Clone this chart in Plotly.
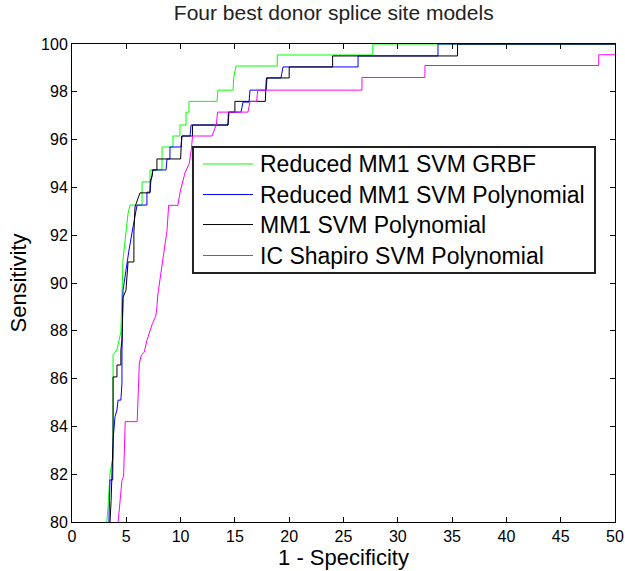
import plotly.graph_objects as go

# ROC curves (1 - specificity in %, sensitivity in %) for four donor splice site models
grbf_x = [3.2, 3.3, 3.5, 3.78, 3.78, 4.14, 4.33, 4.5, 4.7, 5.16, 5.34, 6.45, 6.45, 7.18, 7.18,
          8.29, 8.29, 9.3, 9.3, 9.94, 9.94, 10.5, 10.5, 10.77, 10.77, 13.35, 13.44, 14.83, 14.9,
          15.1, 18.9, 18.9, 27.7, 27.7, 50.0]
grbf_y = [80.0, 80.5, 82.05, 82.7, 87.0, 87.2, 87.6, 87.95, 91.0, 92.9, 93.26, 93.26, 94.23, 94.23, 94.73,
          94.73, 95.69, 95.69, 96.15, 96.15, 96.61, 96.61, 97.15, 97.15, 97.6, 97.6, 98.07, 98.07, 98.6,
          99.08, 99.08, 99.54, 99.54, 100.0, 100.0]

red_poly_x = [3.4, 3.5, 3.75, 3.78, 3.96, 4.14, 4.24, 4.5, 4.6, 4.6, 4.7, 4.88, 5.25, 5.62, 5.99,
              6.9, 6.9, 7.18, 7.27, 7.46, 8.66, 8.75, 9.02, 9.02, 10.04, 10.13, 10.87, 10.96, 14.36,
              14.46, 15.56, 15.75, 16.3, 16.39, 17.86, 17.96, 19.24, 19.43, 26.34, 26.34, 33.7, 33.7, 50.0]
red_poly_y = [80.0, 81.76, 81.76, 83.43, 84.4, 84.69, 85.1, 85.1, 85.8, 87.07, 89.7, 90.33, 91.38, 92.34, 93.26,
              93.26, 93.8, 93.8, 94.3, 94.73, 94.73, 95.19, 95.19, 95.69, 95.69, 96.15, 96.15, 96.61, 96.61,
              97.15, 97.15, 97.57, 97.57, 98.07, 98.07, 98.58, 98.58, 99.04, 99.04, 99.5, 99.5, 100.0, 100.0]

mm1_poly_x = [3.5, 3.6, 3.78, 3.78, 4.14, 4.14, 4.5, 4.5, 4.6, 4.7, 4.97, 5.16, 5.7, 5.7, 5.8, 6.26,
              7.18, 7.2, 7.4, 7.4, 7.82, 7.82, 10.0, 10.1, 11.1, 11.1, 14.36, 14.4, 15.0, 15.0,
              17.8, 17.9, 20.0, 20.0, 24.0, 24.0, 35.5, 35.5, 50.0]
mm1_poly_y = [80.0, 80.9, 83.4, 86.07, 86.07, 86.57, 86.57, 87.2, 87.6, 89.4, 89.7, 90.88, 90.88, 92.09, 93.18, 93.77,
              93.77, 94.23, 94.5, 94.73, 94.73, 95.19, 95.19, 96.15, 96.15, 96.61, 96.61, 97.15, 97.15, 97.6,
              97.6, 98.58, 98.58, 99.04, 99.04, 99.5, 99.5, 100.0, 100.0]

shapiro_x = [4.25, 4.6, 4.75, 4.9, 6.0, 6.2, 6.4, 6.65, 6.9, 7.2, 7.4, 7.7, 7.8, 7.9, 8.3, 8.6, 8.75,
             8.9, 9.75, 9.95, 10.2, 10.4, 10.8, 10.9, 11.0, 11.1, 12.9, 13.3, 13.4, 16.2, 16.4, 17.0,
             17.1, 26.7, 26.7, 32.5, 32.5, 48.5, 48.5, 50.0]
shapiro_y = [80.0, 81.75, 81.9, 84.2, 84.2, 86.65, 87.0, 87.1, 87.6, 88.0, 88.3, 88.6, 88.9, 89.5, 90.7, 91.8, 92.2,
             93.25, 93.25, 93.8, 94.3, 94.6, 95.0, 95.3, 95.65, 96.15, 96.15, 96.65, 97.15, 97.15, 97.6, 97.6,
             98.07, 98.07, 98.6, 98.6, 99.1, 99.1, 99.55, 99.55]

model_names = ["Reduced MM1 SVM GRBF", "Reduced MM1 SVM Polynomial",
               "MM1 SVM Polynomial", "IC Shapiro SVM Polynomial"]
model_x = [grbf_x, red_poly_x, mm1_poly_x, shapiro_x]
model_y = [grbf_y, red_poly_y, mm1_poly_y, shapiro_y]
model_colors = ["#00ff00", "#0000ff", "#000000", "#ff00ff"]

x_ticks = list(range(0, 51, 5))
y_ticks = list(range(80, 101, 2))

FONT = "Liberation Sans, Arial, sans-serif"

fig = go.Figure()
for name, xs, ys, color in zip(model_names, model_x, model_y, model_colors):
    fig.add_trace(go.Scatter(x=xs, y=ys, mode="lines", name=name, showlegend=False,
                             line=dict(color=color, width=1)))

# Boxed legend inside the axes (paper coordinates)
box_x0, box_x1, box_y0, box_y1 = 0.2228, 0.9632, 0.5209, 0.7845
fig.add_shape(type="rect", xref="paper", yref="paper", x0=box_x0, x1=box_x1, y0=box_y0, y1=box_y1,
              line=dict(color="#222222", width=2), fillcolor="white", layer="above")
entry_y = [0.7490, 0.6851, 0.6223, 0.5575]
for name, color, ey in zip(model_names, model_colors, entry_y):
    fig.add_shape(type="line", xref="paper", yref="paper", x0=0.2413, x1=0.3333, y0=ey, y1=ey,
                  line=dict(color=color, width=1), layer="above")
    fig.add_annotation(text=name, xref="paper", yref="paper", x=0.3425, y=ey,
                       xanchor="left", yanchor="middle", showarrow=False,
                       font=dict(family=FONT, size=23, color="black"))

axis_common = dict(showline=True, linecolor="black", linewidth=1, mirror="ticks",
                   ticks="inside", ticklen=5, tickcolor="black", showgrid=False,
                   zeroline=False, automargin=False,
                   tickfont=dict(family=FONT, size=16, color="black"))

fig.update_layout(
    width=625, height=571,
    margin=dict(l=72, r=10, t=44, b=49),
    paper_bgcolor="white", plot_bgcolor="white",
    font=dict(family=FONT, color="black"),
    title=dict(text="Four best donor splice site models", x=0.534, xanchor="center",
               xref="container", y=0.977, yanchor="middle", yref="container",
               font=dict(family=FONT, size=21, color="#222222")),
    xaxis=dict(range=[0, 50], tickvals=x_ticks, ticktext=[str(v) for v in x_ticks],
               title=dict(text="1 - Specificity", font=dict(family=FONT, size=22), standoff=4),
               **axis_common),
    yaxis=dict(range=[80, 100], tickvals=y_ticks, ticktext=[str(v) for v in y_ticks],
               title=dict(text="Sensitivity", font=dict(family=FONT, size=22), standoff=8),
               **axis_common),
    showlegend=False,
)

fig.write_html("out.html")
